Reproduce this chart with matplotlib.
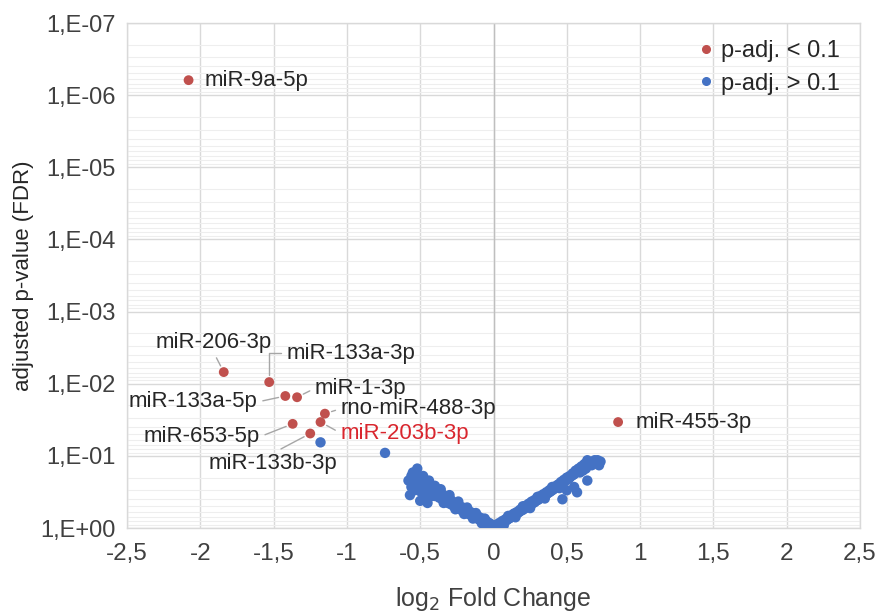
import matplotlib
matplotlib.use("Agg")
import matplotlib.pyplot as plt
from matplotlib.ticker import FixedLocator, FuncFormatter, LogLocator, NullFormatter
from matplotlib.lines import Line2D
import math

# ---------------- data ----------------
sig_names = ["miR-9a-5p", "miR-206-3p", "miR-133a-3p", "miR-133a-5p", "miR-1-3p",
             "rno-miR-488-3p", "miR-203b-3p", "miR-653-5p", "miR-133b-3p", "miR-455-3p"]
sig_lfc = [-2.08, -1.84, -1.53, -1.42, -1.34, -1.15, -1.18, -1.37, -1.25, 0.85]
sig_padj = [6.2e-7, 0.0069, 0.0095, 0.0148, 0.0154, 0.026, 0.034, 0.036, 0.049, 0.034]

ns_lfc = [
    -1.18, -0.74,
    -0.58, -0.57, -0.56, -0.55, -0.55, -0.54, -0.53, -0.53, -0.52, -0.51, -0.50, -0.50,
    -0.49, -0.48, -0.47, -0.47, -0.46, -0.45, -0.45, -0.44, -0.43, -0.42, -0.41, -0.40,
    -0.40, -0.39, -0.38, -0.37, -0.36, -0.35, -0.34, -0.33, -0.32, -0.31, -0.30, -0.29,
    -0.28, -0.27, -0.26, -0.25, -0.24, -0.23, -0.22, -0.21, -0.20, -0.19, -0.18, -0.17,
    -0.16, -0.15, -0.14, -0.13, -0.12, -0.11, -0.10, -0.09, -0.08, -0.07, -0.06, -0.05,
    -0.04, -0.03, -0.02, -0.01, 0.00,
    -0.52, -0.48, -0.44, -0.40, -0.36, -0.30, -0.24, -0.18, -0.12, -0.06,
    -0.42, -0.34, -0.26, -0.20, -0.14, -0.08,
    -0.56, -0.54, -0.52, -0.51, -0.49, -0.48, -0.46, -0.44, -0.43, -0.41, -0.39, -0.38,
    -0.37, -0.35, -0.33, -0.31, -0.29, -0.27, -0.25, -0.23, -0.21, -0.19, -0.17, -0.15,
    -0.13, -0.11, -0.09, -0.07, -0.05, -0.03, -0.01, -0.02, 0.00, -0.46, -0.50, -0.53,
    0.01, 0.02, 0.03, 0.04, 0.05, 0.06, 0.07, 0.08, 0.09, 0.10, 0.11, 0.12, 0.13, 0.14,
    0.15, 0.16, 0.17, 0.18, 0.19, 0.20, 0.21, 0.22, 0.23, 0.24, 0.25, 0.26, 0.27, 0.28,
    0.29, 0.30, 0.31, 0.32, 0.33, 0.34, 0.35, 0.36, 0.37, 0.38, 0.39, 0.40, 0.41, 0.42,
    0.43, 0.44, 0.45, 0.46, 0.47, 0.48, 0.49, 0.50, 0.51, 0.52, 0.53, 0.54, 0.55, 0.56,
    0.57, 0.58, 0.60, 0.62, 0.64, 0.66, 0.68, 0.70, 0.72, 0.64, 0.71,
    0.47, 0.57, 0.64, 0.55, 0.50,
    0.10, 0.20, 0.30, 0.40, 0.25, 0.35, 0.15, 0.45,
    0.02, 0.04, 0.06, 0.08, 0.10, 0.12, 0.14, 0.16, 0.18, 0.20, 0.22, 0.24, 0.26, 0.28,
    0.30, 0.32, 0.34, 0.36, 0.38, 0.40, 0.42, 0.44, 0.46, 0.48, 0.50, 0.52, 0.54, 0.56,
    0.58, 0.60, 0.62, 0.59, 0.61, 0.63, 0.67, 0.69, 0.73, 0.05, 0.03, 0.07,
]
ns_padj = [
    0.065, 0.091,
    0.22, 0.35, 0.19, 0.17, 0.25, 0.21, 0.18, 0.28, 0.23, 0.20, 0.26, 0.31,
    0.22, 0.25, 0.40, 0.27, 0.24, 0.29, 0.45, 0.27, 0.30, 0.28, 0.33, 0.31,
    0.36, 0.30, 0.35, 0.38, 0.34, 0.40, 0.37, 0.42, 0.39, 0.45, 0.42, 0.47,
    0.44, 0.50, 0.47, 0.52, 0.50, 0.55, 0.53, 0.58, 0.56, 0.61, 0.59, 0.64,
    0.63, 0.67, 0.66, 0.70, 0.70, 0.74, 0.75, 0.78, 0.79, 0.82, 0.84, 0.87,
    0.89, 0.92, 0.94, 0.97, 0.99,
    0.15, 0.19, 0.22, 0.26, 0.29, 0.35, 0.43, 0.52, 0.62, 0.74,
    0.36, 0.45, 0.55, 0.64, 0.74, 0.86,
    0.27, 0.30, 0.19, 0.26, 0.30, 0.21, 0.32, 0.31, 0.25, 0.28, 0.34, 0.29,
    0.33, 0.34, 0.36, 0.40, 0.41, 0.45, 0.46, 0.50, 0.52, 0.55, 0.58, 0.61,
    0.64, 0.68, 0.72, 0.76, 0.80, 0.85, 0.90, 0.99, 0.93, 0.38, 0.42, 0.24,
    0.97, 0.95, 0.92, 0.90, 0.87, 0.85, 0.82, 0.80, 0.78, 0.75, 0.73, 0.71, 0.69, 0.67,
    0.65, 0.63, 0.61, 0.59, 0.57, 0.56, 0.54, 0.52, 0.51, 0.49, 0.48, 0.46, 0.45, 0.44,
    0.42, 0.41, 0.40, 0.38, 0.37, 0.36, 0.35, 0.34, 0.33, 0.32, 0.31, 0.30, 0.29, 0.28,
    0.27, 0.26, 0.25, 0.245, 0.24, 0.23, 0.22, 0.215, 0.21, 0.20, 0.19, 0.185, 0.18, 0.17,
    0.165, 0.16, 0.15, 0.14, 0.13, 0.125, 0.12, 0.125, 0.135, 0.115, 0.115,
    0.40, 0.32, 0.22, 0.27, 0.30,
    0.68, 0.50, 0.37, 0.27, 0.53, 0.39, 0.71, 0.28,
    0.90, 0.85, 0.80, 0.76, 0.71, 0.67, 0.63, 0.60, 0.56, 0.53, 0.49, 0.46, 0.43, 0.41,
    0.39, 0.36, 0.34, 0.32, 0.30, 0.285, 0.265, 0.25, 0.23, 0.215, 0.20, 0.19, 0.175, 0.16,
    0.15, 0.14, 0.13, 0.17, 0.16, 0.15, 0.135, 0.115, 0.12, 0.95, 0.99, 0.92,
]

x_ticks = [-2.5, -2, -1.5, -1, -0.5, 0, 0.5, 1, 1.5, 2, 2.5]
y_ticks = [1e-7, 1e-6, 1e-5, 1e-4, 1e-3, 1e-2, 1e-1, 1e0]
legend_labels = ["p-adj. < 0.1", "p-adj. > 0.1"]

# ---------------- layout / style ----------------
RED = "#c0504d"
BLUE = "#4472c4"
LABEL_RED = "#d9262e"
TXT = "#262626"
TICK_TXT = "#404040"
FONT = ["Liberation Sans", "DejaVu Sans"]
plt.rcParams["font.family"] = FONT

# label placement (pixel offsets from point; +y is up), ha, leader style
label_layout = {
    "miR-9a-5p":      (16, 0, "left", None),
    "miR-206-3p":     (-10, 30, "center", (0.5, 0.0)),
    "miR-133a-3p":    (17, 29, "left", "angle"),
    "miR-1-3p":       (18, 9, "left", (0.0, 0.5)),
    "miR-133a-5p":    (-28, -6, "right", (1.0, 0.5)),
    "rno-miR-488-3p": (16, 5, "left", (0.0, 0.5)),
    "miR-203b-3p":    (20, -11, "left", (0.0, 0.5)),
    "miR-653-5p":     (-33, -13, "right", (1.0, 0.5)),
    "miR-133b-3p":    (-37, -30, "center", (0.5, 1.0)),
    "miR-455-3p":     (17, 0, "left", None),
}

W, H = 880, 616
AX_L, AX_R, AX_T, AX_B = 127, 860, 23, 528
fig = plt.figure(figsize=(W / 100, H / 100), dpi=100)
ax = fig.add_axes([AX_L / W, (H - AX_B) / H, (AX_R - AX_L) / W, (AX_B - AX_T) / H])

ax.set_yscale("log")
ax.set_ylim(1e0, 1e-7)
ax.set_xlim(-2.5, 2.5)

ax.xaxis.set_major_locator(FixedLocator(x_ticks))
ax.xaxis.set_major_formatter(FuncFormatter(lambda v, p: f"{v:g}".replace(".", ",")))
ax.yaxis.set_major_locator(FixedLocator(y_ticks))
ax.yaxis.set_major_formatter(FuncFormatter(lambda v, p: "1,E{:+03d}".format(int(round(math.log10(v))))))
ax.yaxis.set_minor_locator(LogLocator(base=10, subs=[2, 3, 4, 5, 6, 7, 8, 9], numticks=50))
ax.yaxis.set_minor_formatter(NullFormatter())

ax.grid(True, which="major", axis="both", color="#d9d9d9", lw=1.0, zorder=0)
ax.grid(True, which="minor", axis="y", color="#eeeeee", lw=0.8, zorder=0)
ax.set_axisbelow(True)
ax.axvline(0, color="#bfbfbf", lw=1.0, zorder=1)
for s in ax.spines.values():
    s.set_color("#d9d9d9")
    s.set_linewidth(1.0)

ax.tick_params(axis="both", which="both", length=0)
ax.tick_params(axis="x", labelsize=17.5, labelcolor=TICK_TXT, pad=11)
ax.tick_params(axis="y", labelsize=17, labelcolor=TICK_TXT, pad=8)

ax.set_xlabel("log$_2$ Fold Change", fontsize=18, color=TICK_TXT, labelpad=14)
ax.set_ylabel("adjusted p-value (FDR)", fontsize=16, color=TXT)
ax.yaxis.set_label_coords((34 - AX_L) / (AX_R - AX_L), 0.5)

ax.scatter(ns_lfc, ns_padj, s=56, color=BLUE, edgecolors="none", zorder=3)
ax.scatter(sig_lfc, sig_padj, s=50, color=RED, edgecolors="none", zorder=4)

PX2PT = 72 / 100
for name, xv, pv in zip(sig_names, sig_lfc, sig_padj):
    dx, dy, ha, leader = label_layout[name]
    color = LABEL_RED if name == "miR-203b-3p" else TXT
    kw = dict(xy=(xv, pv), xytext=(dx * PX2PT, dy * PX2PT), textcoords="offset points",
              ha=ha, va="center", fontsize=16, color=color, zorder=5)
    if leader == "angle":
        kw["arrowprops"] = dict(arrowstyle="-", color="#a6a6a6", lw=1.0, shrinkA=2, shrinkB=5,
                                relpos=(0.0, 0.5), connectionstyle="angle,angleA=0,angleB=90,rad=0")
    elif leader is not None:
        kw["arrowprops"] = dict(arrowstyle="-", color="#a6a6a6", lw=1.0, shrinkA=2, shrinkB=5,
                                relpos=leader)
    ax.annotate(name, **kw)

handles = [Line2D([], [], marker="o", ls="none", color=RED, markersize=5.5),
           Line2D([], [], marker="o", ls="none", color=BLUE, markersize=5.5)]
leg = ax.legend(handles, legend_labels, loc="upper right", frameon=False,
                bbox_to_anchor=((840 - AX_L) / (AX_R - AX_L), (AX_B - 40) / (AX_B - AX_T)),
                borderaxespad=0, borderpad=0, fontsize=17, handlelength=0.6,
                handletextpad=0.35, labelspacing=0.45, labelcolor=TXT)

fig.savefig("out.png", dpi=100)
